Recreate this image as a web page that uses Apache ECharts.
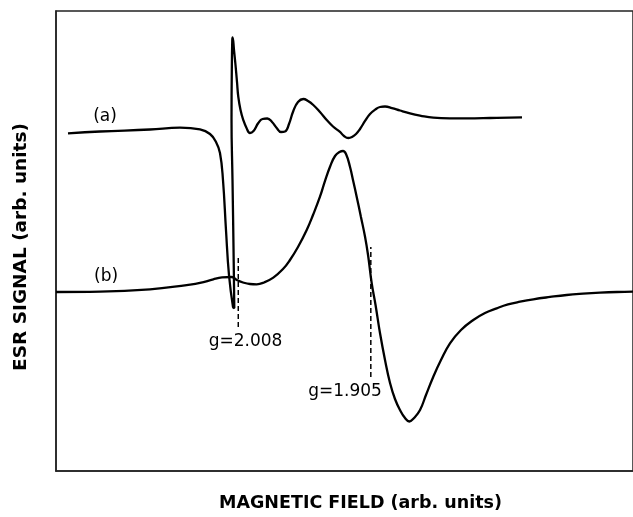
<!DOCTYPE html>
<html>
<head>
<meta charset="utf-8">
<script src="https://cdn.jsdelivr.net/npm/echarts@6/dist/echarts.min.js"></script>
<style>
html,body{margin:0;padding:0;background:#fff;}
#chart{width:633px;height:517px;}
</style>
</head>
<body>
<div id="chart"></div>
<script>
// Curve (a): [magnetic field, ESR signal] in arbitrary units
var curveA = [
  [2.08,73.41],[7.63,73.8],[16.29,74.24],[21.49,74.63],[24.96,74.24],[26.69,73.26],
  [27.73,71.52],[28.42,69.13],[28.94,63.26],[29.46,52.39],[29.98,42.61],[30.68,35.65],
  [30.90,35.43],[30.77,48.04],[30.59,63.26],[30.42,76.30],[30.47,87.17],[30.55,93.7],
  [30.61,94.28],[30.85,91.52],[31.11,88.26],[31.37,84.57],[31.59,81.37],[31.98,78.48],
  [32.46,76.30],[33.02,74.57],[33.62,73.48],[34.23,73.91],[35.06,75.65],[35.79,76.52],
  [36.62,76.63],[37.44,75.87],[38.25,74.57],[39.0,73.7],[39.69,73.8],[40.38,75.43],
  [41.13,78.26],[41.94,80.22],[42.86,80.87],[43.68,80.43],[44.59,79.57],[45.75,78.04],
  [46.92,76.30],[48.01,74.89],[49.22,73.70],[49.91,72.83],[50.66,72.39],[51.30,72.61],
  [52.00,73.26],[52.69,74.35],[53.56,76.09],[54.42,77.61],[55.46,78.70],[56.15,79.13],
  [57.02,79.24],[58.23,78.91],[59.62,78.37],[61.35,77.76],[63.09,77.28],[65.39,76.80],
  [68.28,76.67],[71.18,76.67],[75.22,76.74],[80.76,76.89]
];
// Curve (b)
var curveB = [
  [0,38.91],[7.63,38.98],[16.29,39.50],[22.65,40.43],[24.96,40.87],[27.26,41.67],
  [28.77,42.07],[30.45,42.17],[31.32,41.52],[32.41,40.98],[33.62,40.65],[34.78,40.59],
  [36.05,40.98],[37.66,42.04],[39.34,43.90],[40.55,45.87],[41.94,48.70],[43.45,52.39],
  [44.54,55.65],[45.75,59.63],[46.61,63.04],[47.49,66.15],[48.36,68.48],[49.22,69.41],
  [49.74,69.57],[50.26,68.91],[50.95,66.15],[51.47,63.26],[52.11,59.63],[52.85,55.22],
  [53.56,50.93],[54.08,46.96],[54.72,40.80],[55.38,36.09],[56.15,30.0],[57.02,24.13],
  [57.89,19.13],[58.75,15.65],[59.62,13.26],[60.49,11.52],[61.23,10.76],[62.05,11.52],
  [63.09,13.26],[64.12,16.52],[65.39,20.50],[66.72,24.13],[68.28,27.76],[70.19,30.65],
  [72.32,32.83],[74.35,34.35],[76.38,35.37],[78.34,36.2],[80.42,36.80],[82.72,37.33],
  [85.62,37.83],[88.51,38.26],[91.33,38.54],[94.28,38.76],[97.23,38.91],[100,38.98]
];
// g-value marker lines: x position, y from, y to
var gMarkers = [
  {label:'g=2.008', x:31.59, y0:31.30, y1:46.30},
  {label:'g=1.905', x:54.56, y0:20.43, y1:48.70}
];
// Text annotations: text and anchor (data units)
var notes = [
  {text:'(a)', x:8.49, y:76.96},
  {text:'(b)', x:8.67, y:42.17},
  {text:'g=2.008', x:32.84, y:28.04},
  {text:'g=1.905', x:50.09, y:17.17}
];
var xTitle = 'MAGNETIC FIELD (arb. units)';
var yTitle = 'ESR SIGNAL (arb. units)';

var chart = echarts.init(document.getElementById('chart'), null, {renderer:'canvas'});
var series = [
  {type:'line', data:curveA, showSymbol:false, smooth:0.45, lineStyle:{color:'#000', width:2.3}, z:3, silent:true},
  {type:'line', data:curveB, showSymbol:false, smooth:0.45, lineStyle:{color:'#000', width:2.3}, z:3, silent:true}
];
gMarkers.forEach(function(m){
  series.push({type:'line', data:[[m.x,m.y0],[m.x,m.y1]], showSymbol:false,
    lineStyle:{color:'#000', width:1.5, type:[5,3]}, z:2, silent:true});
});
series.push({
  type:'scatter', symbolSize:0, silent:true,
  data: notes.map(function(n){return {value:[n.x,n.y], name:n.text};}),
  itemStyle:{opacity:1},
  label:{show:true, position:'inside', formatter:function(p){return p.name;},
    fontFamily:'DejaVu Sans', fontSize:17, color:'#000', opacity:1}
});
chart.setOption({
  animation:false,
  backgroundColor:'#fff',
  grid:{left:56, right:-3, top:11, bottom:46, show:true, borderColor:'#222', borderWidth:1.5},
  xAxis:{type:'value', min:0, max:100, name:xTitle, nameLocation:'middle', nameGap:23,
    nameTextStyle:{fontFamily:'DejaVu Sans', fontWeight:'bold', fontSize:17.5, color:'#000', padding:[0,0,0,32]},
    axisLine:{show:true, lineStyle:{color:'#222', width:1.5}}, axisTick:{show:false}, axisLabel:{show:false}, splitLine:{show:false}},
  yAxis:{type:'value', min:0, max:100, name:yTitle, nameLocation:'middle', nameGap:25,
    nameTextStyle:{fontFamily:'DejaVu Sans', fontWeight:'bold', fontSize:18.5, color:'#000', padding:[0,12,0,0]},
    axisLine:{show:true, lineStyle:{color:'#222', width:1.5}}, axisTick:{show:false}, axisLabel:{show:false}, splitLine:{show:false}},
  series:series
});
</script>
</body>
</html>
